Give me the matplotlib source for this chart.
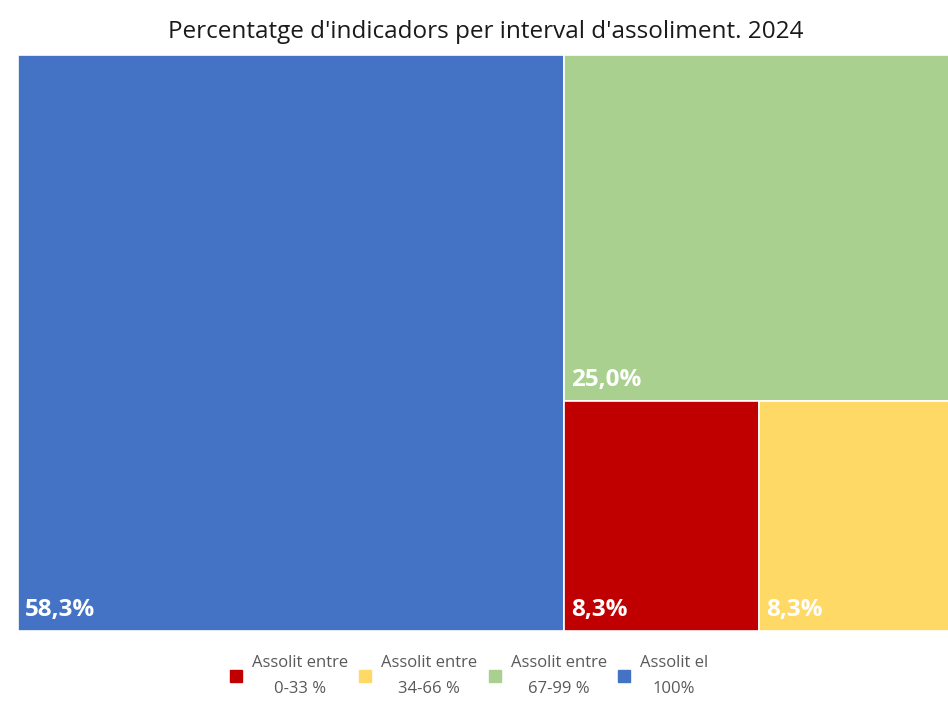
import matplotlib
matplotlib.use("Agg")
import matplotlib.pyplot as plt
from matplotlib.patches import Rectangle
from matplotlib.lines import Line2D

labels = ["Assolit entre\n0-33 %", "Assolit entre\n34-66 %", "Assolit entre\n67-99 %", "Assolit el\n100%"]
values = [8.3, 8.3, 25.0, 58.3]
colors = ["#C00000", "#FFD966", "#A9D08E", "#4472C4"]
value_labels = ["8,3%", "8,3%", "25,0%", "58,3%"]

plt.rcParams['font.family'] = ['Open Sans', 'DejaVu Sans']

W, H = 948, 715
fig = plt.figure(figsize=(W/100, H/100), dpi=100)
fig.patch.set_facecolor("white")

ax = fig.add_axes([18/W, 1-631/H, (954-18)/W, (631-55)/H])
ax.set_xlim(0, 1)
ax.set_ylim(0, 1)
ax.axis("off")

total = sum(values)
i_blue, i_green, i_red, i_yellow = 3, 2, 0, 1
wb = values[i_blue] / total
rest = total - values[i_blue]
hg = values[i_green] / rest
bottom_total = values[i_red] + values[i_yellow]
wr = values[i_red] / bottom_total

rects = {
    i_blue: (0, 0, wb, 1),
    i_green: (wb, 1 - hg, 1 - wb, hg),
    i_red: (wb, 0, (1 - wb) * wr, 1 - hg),
    i_yellow: (wb + (1 - wb) * wr, 0, (1 - wb) * (1 - wr), 1 - hg),
}

for i, (x, y, w, h) in rects.items():
    ax.add_patch(Rectangle((x, y), w, h, facecolor=colors[i], edgecolor="white", linewidth=1.2))
    ax.text(x + 0.007, y + 0.016, value_labels[i], color="white", fontsize=17.5,
            fontweight="bold", ha="left", va="bottom")

fig.text(486/W, 1 - 32/H, "Percentatge d'indicadors per interval d'assoliment. 2024",
         ha="center", va="center", fontsize=17.5, color="#1a1a1a")

handles = [Line2D([0], [0], marker="s", linestyle="none", markersize=8,
                  markerfacecolor=c, markeredgecolor=c) for c in colors]
leg = fig.legend(handles, labels, loc="center", bbox_to_anchor=(468/W, 1 - 676/H), ncol=4,
                 frameon=False, fontsize=12, handletextpad=0.45, columnspacing=0.55,
                 handlelength=1.0, labelcolor="#595959")
for t in leg.get_texts():
    t.set_multialignment("center")
    t.set_linespacing(1.8)

fig.savefig("out.png", dpi=100, facecolor="white")
